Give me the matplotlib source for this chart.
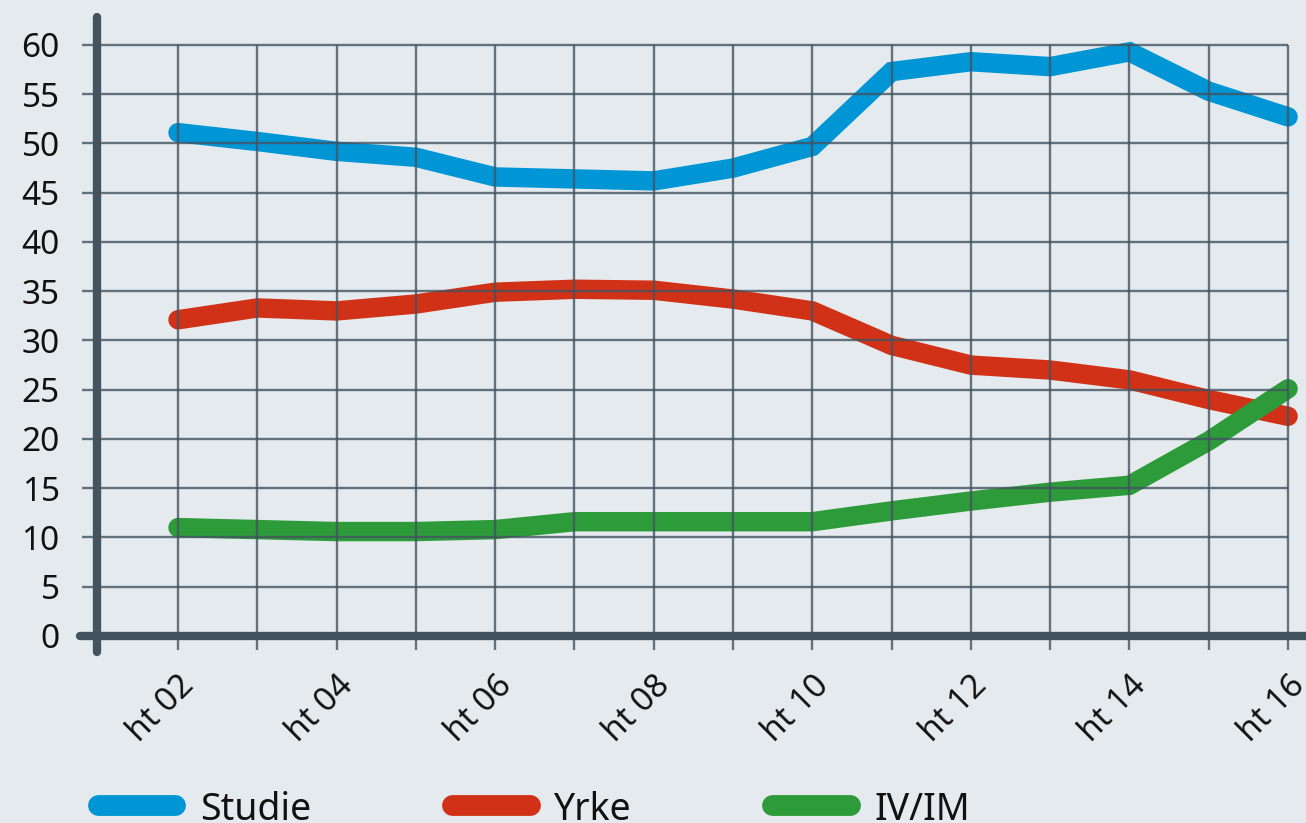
import matplotlib
matplotlib.use("Agg")
import matplotlib.pyplot as plt
from matplotlib.lines import Line2D

# --- data -----------------------------------------------------------------
periods = ["ht 02", "ht 03", "ht 04", "ht 05", "ht 06", "ht 07", "ht 08", "ht 09",
           "ht 10", "ht 11", "ht 12", "ht 13", "ht 14", "ht 15", "ht 16"]
studie = [51.1, 50.2, 49.2, 48.6, 46.6, 46.4, 46.2, 47.5, 49.7, 57.3, 58.3, 57.8, 59.3, 55.3, 52.7]
yrke = [32.1, 33.3, 33.0, 33.7, 34.9, 35.2, 35.1, 34.2, 33.0, 29.5, 27.5, 27.0, 26.0, 24.0, 22.3]
ivim = [11.0, 10.8, 10.6, 10.6, 10.8, 11.6, 11.6, 11.6, 11.6, 12.7, 13.7, 14.6, 15.3, 19.8, 25.1]
series_names = ["Studie", "Yrke", "IV/IM"]
y_ticks = list(range(0, 61, 5))

BG = "#e5eaee"
AXIS = "#44545f"
GRID = "#435360"
COLORS = ["#0096d6", "#d13217", "#2d9b3a"]
FONT = "Noto Sans"

fig = plt.figure(figsize=(13.06, 8.23), dpi=100, facecolor=BG)
ax = fig.add_axes([60 / 1306, 163 / 823, 1246 / 1306, 650 / 823])
ax.set_facecolor(BG)

x = list(range(len(periods)))
ax.set_xlim(-1.488, 14.226)
ax.set_ylim(-2.44, 63.55)

# series
for vals, col in zip([studie, yrke, ivim], COLORS):
    ax.plot(x, vals, color=col, linewidth=14, solid_capstyle="round",
            solid_joinstyle="miter", zorder=3)

# grid (drawn over the lines, slightly see-through)
ax.hlines(y_ticks[1:], -1.21, x[-1], color=GRID, linewidth=1.7, alpha=0.8, zorder=4)
ax.vlines(x, -1.42, 60, color=GRID, linewidth=1.7, alpha=0.8, zorder=4)

# axis lines
for side in ["top", "right"]:
    ax.spines[side].set_visible(False)
ax.spines["left"].set_position(("data", -1.02))
ax.spines["left"].set_bounds(-1.6, 62.8)
ax.spines["bottom"].set_position(("data", 0))
ax.spines["bottom"].set_bounds(-1.23, 14.3)
for side in ["left", "bottom"]:
    sp = ax.spines[side]
    sp.set_color(AXIS)
    sp.set_linewidth(6)
    sp.set_capstyle("round")
    sp.set_zorder(5)

ax.set_yticks(y_ticks)
ax.set_yticklabels([str(v) for v in y_ticks], fontsize=24, family=FONT, color="#111111")
ax.tick_params(axis="y", length=0, pad=27)

ax.set_xticks(x[::2])
ax.set_xticklabels(periods[::2], fontsize=24, family=FONT, color="#111111",
                   rotation=45, ha="right", va="top", rotation_mode="anchor")
ax.tick_params(axis="x", length=0, pad=24)

# legend along the bottom edge
leg_x = [(98, 175, 200), (452, 530, 553), (772, 850, 874)]
for (x0, x1, tx), col, name in zip(leg_x, COLORS, series_names):
    fig.add_artist(Line2D([x0 / 1306, x1 / 1306], [18 / 823, 18 / 823], color=col,
                          linewidth=15, solid_capstyle="round", transform=fig.transFigure))
    fig.text(tx / 1306, 3 / 823, name, fontsize=27, family=FONT, color="#111111",
             ha="left", va="baseline")

fig.savefig("out.png", dpi=100, facecolor=BG)
